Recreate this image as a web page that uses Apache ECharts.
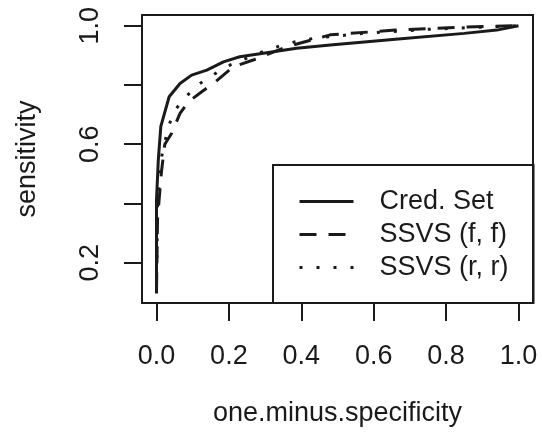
<!DOCTYPE html>
<html>
<head>
<meta charset="utf-8">
<script src="https://cdn.jsdelivr.net/npm/echarts@6/dist/echarts.min.js"></script>
<style>html,body{margin:0;padding:0;background:#fff}#c{width:542px;height:441px}</style>
</head>
<body>
<div id="c"></div>
<script>
var seriesNames = ['Cred. Set', 'SSVS (f, f)', 'SSVS (r, r)'];
var credX = [0, 0.0, 0.005, 0.012, 0.035, 0.065, 0.097, 0.139, 0.185, 0.23, 0.295, 0.387, 0.48, 0.66, 0.85, 0.94, 1.0];
var credY = [0.096, 0.41, 0.546, 0.66, 0.76, 0.805, 0.833, 0.85, 0.878, 0.895, 0.907, 0.924, 0.935, 0.954, 0.974, 0.985, 1.0];
var ffX = [0, 0.003, 0.014, 0.023, 0.042, 0.065, 0.088, 0.125, 0.157, 0.212, 0.267, 0.36, 0.48, 0.66, 0.85, 1.0];
var ffY = [0.1, 0.35, 0.51, 0.60, 0.637, 0.704, 0.743, 0.777, 0.805, 0.861, 0.884, 0.929, 0.969, 0.985, 0.995, 1.0];
var rrX = [0, 0.003, 0.014, 0.033, 0.051, 0.074, 0.102, 0.134, 0.171, 0.203, 0.281, 0.36, 0.433, 0.57, 0.755, 0.94, 1.0];
var rrY = [0.1, 0.4, 0.557, 0.66, 0.715, 0.749, 0.788, 0.817, 0.845, 0.867, 0.907, 0.94, 0.957, 0.974, 0.988, 0.997, 1.0];
var xTicks = [0, 0.2, 0.4, 0.6, 0.8, 1.0];
var yTicks = [0.2, 0.4, 0.6, 0.8, 1.0];
var yLabels = [0.2, 0.6, 1.0];

function pairs(xs, ys) { return xs.map(function (x, i) { return [x, ys[i]]; }); }

var font = "'Liberation Sans', Arial, Helvetica, sans-serif";
var ink = '#1a1a1a';
var fs = 27;
var chart = echarts.init(document.getElementById('c'), null, {renderer: 'canvas'});
chart.setOption({
  animation: false,
  backgroundColor: '#fff',
  textStyle: {fontFamily: font, color: ink},
  grid: {left: 142, top: 15, right: 9, bottom: 138, show: true, borderColor: ink, borderWidth: 2, backgroundColor: 'transparent'},
  xAxis: {
    type: 'value', min: -0.04, max: 1.04,
    axisLine: {show: false, onZero: false},
    splitLine: {show: false},
    axisTick: {show: true, inside: false, length: 18, lineStyle: {color: ink, width: 2}, customValues: xTicks},
    axisLabel: {fontSize: fs, color: ink, fontFamily: font, margin: 40, customValues: xTicks,
      formatter: function (v) { return v.toFixed(1); }},
    name: 'one.minus.specificity', nameLocation: 'middle', nameGap: 97,
    nameTextStyle: {fontSize: fs, color: ink, fontFamily: font}
  },
  yAxis: {
    type: 'value', min: 0.064, max: 1.036,
    axisLine: {show: false, onZero: false},
    splitLine: {show: false},
    axisTick: {show: true, inside: false, length: 18, lineStyle: {color: ink, width: 2}, customValues: yTicks},
    axisLabel: {fontSize: fs, color: ink, fontFamily: font, margin: 38, rotate: 90, customValues: yLabels,
      formatter: function (v) { return v.toFixed(1); }},
    name: 'sensitivity', nameLocation: 'middle', nameGap: 101,
    nameTextStyle: {fontSize: fs, color: ink, fontFamily: font}
  },
  legend: {
    left: 273, top: 165, orient: 'vertical',
    borderColor: ink, borderWidth: 2, borderRadius: 0,
    padding: [23, 25, 22, 25],
    itemWidth: 54, itemHeight: 24, itemGap: 6,
    itemStyle: {opacity: 0},
    lineStyle: {width: 3},
    textStyle: {fontSize: fs, color: ink, fontFamily: font, lineHeight: 24, padding: [0, 0, 0, 21]},
    data: seriesNames
  },
  series: [
    {name: seriesNames[0], type: 'line', data: pairs(credX, credY), symbol: 'none', smooth: false,
      lineStyle: {color: ink, width: 3, type: 'solid'}, itemStyle: {color: ink}},
    {name: seriesNames[1], type: 'line', data: pairs(ffX, ffY), symbol: 'none', smooth: false,
      lineStyle: {color: ink, width: 3, type: [17, 12]}, itemStyle: {color: ink}},
    {name: seriesNames[2], type: 'line', data: pairs(rrX, rrY), symbol: 'none', smooth: false,
      lineStyle: {color: ink, width: 3, type: [3, 14]}, itemStyle: {color: ink}}
  ]
});
</script>
</body>
</html>
